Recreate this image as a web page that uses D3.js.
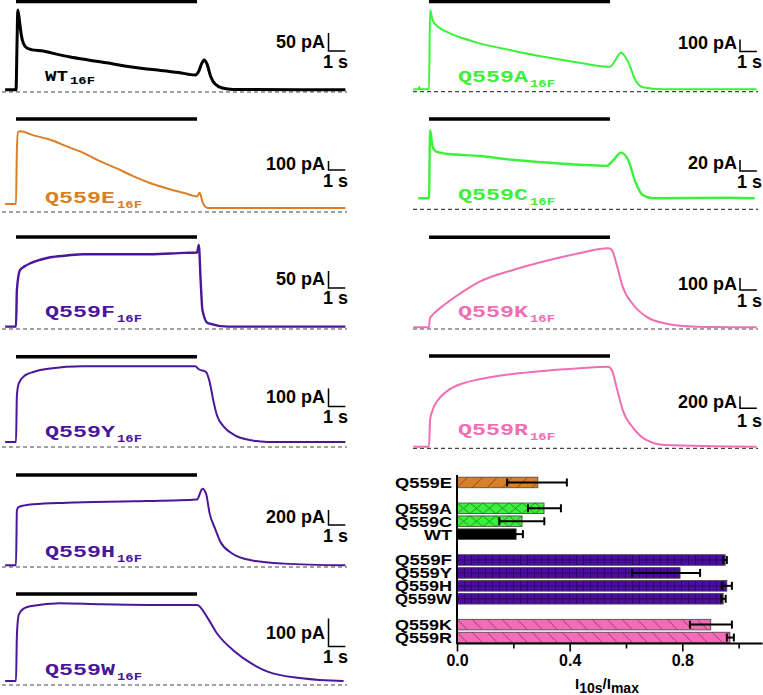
<!DOCTYPE html>
<html><head><meta charset="utf-8">
<script src="https://cdn.jsdelivr.net/npm/d3@7/dist/d3.min.js"></script>
<style>body{margin:0;background:#fff}svg{display:block}</style>
</head><body>
<svg id="c" width="763" height="695"></svg>
<script>
// ---------- trace data: [time (s), current (pA)] ----------
const traceWT = [[-0.6,6],[-0.05,6],[0,6],[0.06,144],[0.1,228],[0.2,194],[0.3,156],[0.4,136],[0.6,122],[0.9,117],[1.5,114],[2,108],[3,97],[4,89],[5,81],[6,72],[7,65],[8,60],[9,54],[9.9,47],[10.1,58],[10.25,78],[10.4,89],[10.55,78],[10.75,44],[11,22],[11.4,11],[12,7],[18.2,6]];
const traceE = [[-0.6,89],[-0.03,89],[0,89],[0.05,700],[0.12,890],[0.22,896],[0.96,851],[1.9,803],[2.8,729],[3.74,655],[4.67,562],[5.6,481],[6.5,396],[7.4,322],[8.4,259],[9.3,211],[10,173],[10.15,214],[10.3,114],[10.45,60],[10.6,44],[18.2,44]];
const traceF = [[-0.6,7],[-0.05,7],[0,7],[0.05,115],[0.22,173],[0.5,185],[0.78,193],[1.3,203],[1.9,211],[2.8,216],[3.7,220],[5.6,220],[7.4,220],[9.3,224],[10.0,225],[10.1,247],[10.2,144],[10.3,56],[10.6,17],[11.7,7],[18.2,7]];
const traceY = [[-0.6,28],[-0.05,28],[0,28],[0.05,287],[0.15,352],[0.5,398],[0.96,417],[1.9,436],[3.7,448],[6.5,449],[9.9,449],[10.1,432],[10.5,417],[10.7,361],[10.9,259],[11.1,176],[11.5,111],[12.1,65],[13,37],[13.9,28],[18.2,28]];
const traceH = [[-0.6,22],[-0.05,22],[0,22],[0.05,756],[0.15,800],[0.96,836],[2.8,858],[6.5,876],[9.8,898],[10,900],[10.3,1045],[10.5,978],[10.7,712],[11,512],[11.3,333],[11.9,187],[13,89],[14.8,45],[18.2,22]];
const traceW = [[-0.6,14],[-0.05,14],[0,14],[0.05,179],[0.15,250],[0.44,274],[0.96,283],[2.4,292],[4.7,288],[7.4,286],[10,286],[10.6,238],[11.1,185],[12.1,119],[13,77],[13.9,48],[15.8,24],[18.1,14]];
const traceA = [[-0.87,20],[-0.57,20],[-0.54,40],[-0.5,20],[-0.03,20],[0,20],[0.06,681],[0.2,597],[0.5,541],[0.96,500],[1.88,445],[2.8,403],[4.64,342],[6.5,287],[8.3,242],[10,208],[10.3,264],[10.6,325],[11,250],[11.4,97],[11.8,37],[12.9,20],[18.1,20]];
const traceC = [[-0.59,20],[-0.03,20],[0,20],[0.06,144],[0.2,114],[0.4,105],[0.96,101],[2.8,97],[4.6,90],[6.5,85],[8.3,81],[9.8,79],[10.2,90],[10.6,103],[11,90],[11.4,50],[11.8,26],[12.4,20],[16.6,21],[18,20]];
const traceK = [[-0.87,14],[-0.03,14],[0,14],[0.05,89],[0.2,117],[0.96,214],[1.88,311],[2.8,394],[4.64,492],[6.5,569],[8.3,631],[9.9,672],[10.1,658],[10.4,519],[10.7,352],[11.3,200],[12,103],[13,48],[14.8,19],[18.1,14]];
const traceR = [[-0.87,27],[-0.03,27],[0,27],[0.06,472],[0.2,639],[0.5,806],[0.96,944],[1.88,1083],[2.8,1150],[4.64,1239],[6.5,1294],[8.3,1333],[9.9,1361],[10.1,1306],[10.4,972],[10.7,639],[11.3,333],[12,139],[13,56],[18.1,27]];

const stimulus = [0, 10];          // agonist application (s)
const timeBar = 1;                 // 1 s scale bar

// ---------- bar chart data ----------
const barCategories = ["Q559E","Q559A","Q559C","WT","Q559F","Q559Y","Q559H","Q559W","Q559K","Q559R"];
const barMeans = [0.287,0.309,0.231,0.210,0.952,0.792,0.958,0.945,0.901,0.969];
const barErrLow = [0.178,0.252,0.150,0.188,0.945,0.622,0.940,0.938,0.827,0.958];
const barErrHigh = [0.390,0.369,0.310,0.234,0.958,0.863,0.976,0.954,0.976,0.983];
const barGroups = ["E","AC","AC","WT","P","P","P","P","KR","KR"];
const xTicks = [0,0.2,0.4,0.6,0.8,1.0];
const xTickLabels = ["0.0","","0.4","","0.8",""];

// ---------- styles / layout ----------
const COL = {black:"#000000", orange:"#d97f26", green:"#3cf03c", purple:"#4b1699", pink:"#f06eb4"};
const panels = [
  {main:"WT", sub:"16F", data:traceWT, color:COL.black, side:"L", base:92, bar:1.5, sPA:50, sPx:18, sbY:51, tY:48, oneY:68, lY:81, lw:3, lsize:14, llen:23},
  {main:"Q559E", sub:"16F", data:traceE, color:COL.orange, side:"L", base:212, bar:119, sPA:100, sPx:9, sbY:170, tY:170, oneY:187, lY:203, lw:2},
  {main:"Q559F", sub:"16F", data:traceF, color:COL.purple, side:"L", base:329, bar:237, sPA:50, sPx:17, sbY:288, tY:285, oneY:304, lY:317, lw:2.4},
  {main:"Q559Y", sub:"16F", data:traceY, color:COL.purple, side:"L", base:447, bar:356.7, sPA:100, sPx:18, sbY:406.5, tY:403, oneY:423, lY:437, lw:2},
  {main:"Q559H", sub:"16F", data:traceH, color:COL.purple, side:"L", base:567, bar:475, sPA:200, sPx:15, sbY:525, tY:523, oneY:542, lY:557, lw:2},
  {main:"Q559W", sub:"16F", data:traceW, color:COL.purple, side:"L", base:685, bar:594, sPA:100, sPx:28, sbY:646.5, tY:639, oneY:663, lY:675, lw:2},
  {main:"Q559A", sub:"16F", data:traceA, color:COL.green, side:"R", base:91.7, bar:1.5, sPA:100, sPx:12, sbY:51.5, tY:49, oneY:68, lY:82, lw:2},
  {main:"Q559C", sub:"16F", data:traceC, color:COL.green, side:"R", base:209.3, bar:119, sPA:20, sPx:11, sbY:171, tY:169, oneY:188, lY:200, lw:2.4},
  {main:"Q559K", sub:"16F", data:traceK, color:COL.pink, side:"R", base:329, bar:237.3, sPA:100, sPx:12, sbY:290, tY:290, oneY:307, lY:317, lw:2},
  {main:"Q559R", sub:"16F", data:traceR, color:COL.pink, side:"R", base:448.3, bar:356, sPA:200, sPx:12, sbY:408.3, tY:408, oneY:427, lY:435, lw:2}
];
const sideCfg = {
  L:{x0:16, x10:197, dash:[2,347], labelX:45, textR:325, sbX:328.5, oneR:348},
  R:{x0:429, x10:610, dash:[413,758], labelX:458, textR:737, sbX:740, oneR:762}
};

const svg = d3.select("#c");
const sans = "'Liberation Sans', Arial, sans-serif";
const mono = "'Courier New', 'Liberation Mono', monospace";

panels.forEach(p => {
  const s = sideCfg[p.side];
  const x = d3.scaleLinear().domain(stimulus).range([s.x0, s.x10]);
  const y = d3.scaleLinear().domain([0, p.sPA]).range([p.base, p.base - p.sPx]);
  const g = svg.append("g");
  g.append("line").attr("x1", s.dash[0]).attr("x2", s.dash[1]).attr("y1", p.base).attr("y2", p.base)
    .attr("stroke", "#444").attr("stroke-width", 1.2).attr("stroke-dasharray", "4,3");
  g.append("line").attr("x1", x(stimulus[0])).attr("x2", x(stimulus[1])).attr("y1", p.bar).attr("y2", p.bar)
    .attr("stroke", "#000").attr("stroke-width", 3.5);
  const line = d3.line().x(d => x(d[0])).y(d => y(d[1])).curve(d3.curveMonotoneX);
  g.append("path").datum(p.data).attr("d", line).attr("fill", "none")
    .attr("stroke", p.color).attr("stroke-width", p.lw).attr("stroke-linejoin", "round");
  const lsize = p.lsize || 16.5, llen = p.llen || 70;
  g.append("text").attr("x", s.labelX).attr("y", p.lY).text(p.main)
    .attr("font-family", mono).attr("font-weight", "bold").attr("font-size", lsize)
    .attr("textLength", llen).attr("lengthAdjust", "spacingAndGlyphs").attr("fill", p.color);
  g.append("text").attr("x", s.labelX + llen + 2).attr("y", p.lY + (p.lsize ? 3 : 5)).text(p.sub)
    .attr("font-family", mono).attr("font-weight", "bold").attr("font-size", 10.5)
    .attr("textLength", 25).attr("lengthAdjust", "spacingAndGlyphs").attr("fill", p.color);
  const sb = d3.path();
  sb.moveTo(s.sbX, p.sbY - (y(0) - y(p.sPA)));
  sb.lineTo(s.sbX, p.sbY);
  sb.lineTo(s.sbX + (x(timeBar) - x(0)) * 0.93, p.sbY);
  g.append("path").attr("d", sb.toString()).attr("fill", "none").attr("stroke", "#000").attr("stroke-width", 1.5);
  g.append("text").attr("x", s.textR).attr("y", p.tY).attr("text-anchor", "end").text(p.sPA + " pA")
    .attr("font-family", sans).attr("font-weight", "bold").attr("font-size", 18);
  g.append("text").attr("x", s.oneR).attr("y", p.oneY).attr("text-anchor", "end").text(timeBar + " s")
    .attr("font-family", sans).attr("font-weight", "bold").attr("font-size", 18);
});

// ---------- bar chart ----------
const slots = ["Q559E","gap1","Q559A","Q559C","WT","gap2","Q559F","Q559Y","Q559H","Q559W","gap3","Q559K","Q559R"];
const yb = d3.scaleBand().domain(slots).range([476, 644]).paddingInner(0.18).paddingOuter(0.09);
const xb = d3.scaleLinear().domain([0, 1.085]).range([457, 762.6]);

const groupStyle = {
  E:{fill:COL.orange, hatch:"#7a3a08", kind:"fwd", w:15},
  AC:{fill:COL.green, hatch:"#1c7a1c", kind:"cross", w:13},
  WT:{fill:"#000", hatch:null},
  P:{fill:"#4b0ca0", hatch:"#26065a", kind:"grid", w:7},
  KR:{fill:"#f36cb7", hatch:"#8a3060", kind:"back", w:15}
};
const defs = svg.append("defs");
const bg = svg.append("g");
barCategories.forEach((c, i) => {
  const st = groupStyle[barGroups[i]];
  const y0 = yb(c), h = yb.bandwidth();
  let fill = st.fill;
  if (st.hatch) {
    const id = "pat" + i;
    const pat = defs.append("pattern").attr("id", id).attr("patternUnits", "userSpaceOnUse")
      .attr("x", xb(0)).attr("y", y0).attr("width", st.w).attr("height", h);
    pat.append("rect").attr("width", st.w).attr("height", h).attr("fill", st.fill);
    let d = "";
    if (st.kind === "fwd") d = `M0,${h} L${h},0 M${st.w},${h} L${st.w + h},0 M${-st.w},${h} L${-st.w + h},0`;
    if (st.kind === "back") d = `M0,0 L${h},${h} M${-st.w},0 L${-st.w + h},${h} M${st.w},0 L${st.w + h},${h}`;
    if (st.kind === "cross") d = `M0,0 L${st.w},${h} M0,${h} L${st.w},0`;
    if (st.kind === "grid") d = `M0.5,0 L0.5,${h} M0,${h / 2} L${st.w},${h / 2}`;
    pat.append("path").attr("d", d).attr("stroke", st.hatch).attr("stroke-width", 0.8).attr("fill", "none");
    fill = `url(#${id})`;
  }
  bg.append("rect").attr("x", xb(0)).attr("y", y0).attr("width", xb(barMeans[i]) - xb(0)).attr("height", h)
    .attr("fill", fill).attr("stroke", "#444").attr("stroke-width", 0.8);
  const cy = y0 + h / 2;
  bg.append("line").attr("x1", xb(barErrLow[i])).attr("x2", xb(barErrHigh[i])).attr("y1", cy).attr("y2", cy)
    .attr("stroke", "#000").attr("stroke-width", 2);
  [barErrLow[i], barErrHigh[i]].forEach(v => {
    bg.append("line").attr("x1", xb(v)).attr("x2", xb(v)).attr("y1", cy - 4).attr("y2", cy + 4)
      .attr("stroke", "#000").attr("stroke-width", 2);
  });
  bg.append("text").attr("x", 452).attr("y", cy).attr("dy", "0.36em").attr("text-anchor", "end").text(c)
    .attr("font-family", sans).attr("font-weight", "bold").attr("font-size", 15)
    .attr("textLength", c === "WT" ? 28 : 57).attr("lengthAdjust", "spacingAndGlyphs");
});
bg.append("line").attr("x1", xb(0)).attr("x2", xb(0)).attr("y1", 475).attr("y2", 644).attr("stroke", "#000").attr("stroke-width", 2);
const xAxis = d3.axisBottom(xb).tickValues(xTicks).tickSize(0).tickFormat((d, i) => xTickLabels[i]);
const ax = bg.append("g").attr("transform", "translate(0,643.5)").call(xAxis);
ax.select(".domain").attr("stroke-width", 2).attr("d", `M${xb(0)},0H${762.6}`);
ax.selectAll(".tick line").attr("y2", (d, i) => xTickLabels[i] ? 8 : 5).attr("stroke-width", 1.6);
ax.selectAll(".tick text").attr("y", 22).attr("dy", 0).attr("font-family", sans).attr("font-weight", "bold").attr("font-size", 16).attr("fill", "#000");
const tt = bg.append("text").attr("x", 607).attr("y", 689).attr("text-anchor", "middle")
  .attr("font-family", sans).attr("font-weight", "bold").attr("font-size", 15);
tt.append("tspan").text("I");
tt.append("tspan").attr("dy", 4).attr("font-size", 14).text("10s");
tt.append("tspan").attr("dy", -4).text("/I");
tt.append("tspan").attr("dy", 4).attr("font-size", 14).text("max");
</script>
</body></html>
